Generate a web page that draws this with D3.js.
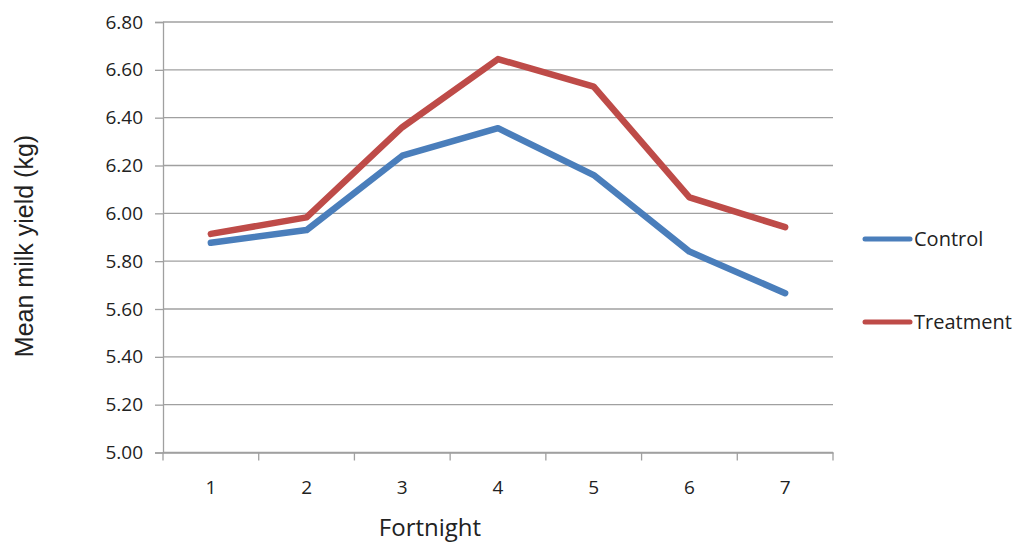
<!DOCTYPE html>
<html>
<head>
<meta charset="utf-8">
<script src="https://cdn.jsdelivr.net/npm/d3@7"></script>
<style>
  body { margin: 0; background: #fff; }
  text { font-family: "Open Sans", "Liberation Sans", sans-serif; fill: #222; }
</style>
</head>
<body>
<svg id="chart" width="1015" height="542"></svg>
<script>
(function () {
  'use strict';

  var fortnights = ['1', '2', '3', '4', '5', '6', '7'];
  var control = [5.877, 5.930, 6.241, 6.356, 6.160, 5.840, 5.666];
  var treatment = [5.914, 5.983, 6.360, 6.645, 6.530, 6.067, 5.942];
  var seriesNames = ['Control', 'Treatment'];
  var seriesColors = ['#4a7ebb', '#be4b48'];
  var yTicks = [5.0, 5.2, 5.4, 5.6, 5.8, 6.0, 6.2, 6.4, 6.6, 6.8];

  var margin = { top: 22, left: 163 };
  var width = 670;
  var height = 430.5;

  var svg = d3.select('#chart');
  var g = svg.append('g')
    .attr('transform', 'translate(' + margin.left + ',' + margin.top + ')');

  var x = d3.scaleBand().domain(fortnights).range([0, width]);
  var y = d3.scaleLinear().domain([5.0, 6.8]).range([height, 0]);

  // gridlines
  g.selectAll('.grid')
    .data(yTicks)
    .enter()
    .append('line')
    .attr('x1', 0)
    .attr('x2', width)
    .attr('y1', function (d) { return y(d); })
    .attr('y2', function (d) { return y(d); })
    .attr('stroke', '#a0a0a0')
    .attr('stroke-width', 1.3);

  // y axis
  var yAxis = g.append('g')
    .call(d3.axisLeft(y).tickValues(yTicks).tickFormat(d3.format('.2f')).tickSize(8).tickPadding(12));
  yAxis.select('.domain').attr('stroke', '#a0a0a0').attr('stroke-width', 1.3);
  yAxis.selectAll('.tick line').attr('stroke', '#a0a0a0').attr('stroke-width', 1.3);
  yAxis.selectAll('text').style('font-size', '19px').attr('fill', '#222');

  // x axis
  var xAxis = g.append('g')
    .attr('transform', 'translate(0,' + height + ')')
    .call(d3.axisBottom(x).tickSize(0).tickPadding(28));
  xAxis.select('.domain').attr('stroke', '#a0a0a0').attr('stroke-width', 1.3);
  xAxis.selectAll('text').style('font-size', '19px').attr('fill', '#222');

  // x ticks between categories
  var bounds = d3.range(fortnights.length + 1).map(function (i) {
    return i * x.step();
  });
  xAxis.selectAll('.btick')
    .data(bounds)
    .enter()
    .append('line')
    .attr('x1', function (d) { return d; })
    .attr('x2', function (d) { return d; })
    .attr('y1', 0)
    .attr('y2', 8)
    .attr('stroke', '#a0a0a0')
    .attr('stroke-width', 1.3);

  // lines
  var line = d3.line()
    .x(function (d, i) { return x(fortnights[i]) + x.bandwidth() / 2; })
    .y(function (d) { return y(d); });

  [control, treatment].forEach(function (vals, k) {
    g.append('path')
      .datum(vals)
      .attr('d', line)
      .attr('fill', 'none')
      .attr('stroke', seriesColors[k])
      .attr('stroke-width', 6.5)
      .attr('stroke-linejoin', 'round')
      .attr('stroke-linecap', 'round');
  });

  // axis titles
  svg.append('text')
    .attr('x', 430)
    .attr('y', 536)
    .attr('text-anchor', 'middle')
    .style('font-size', '24px')
    .text('Fortnight');

  svg.append('text')
    .attr('transform', 'translate(33,246) rotate(-90)')
    .attr('text-anchor', 'middle')
    .style('font-family', '"Liberation Sans", Arial, sans-serif')
    .style('font-size', '25px')
    .text('Mean milk yield (kg)');

  // legend
  var legend = svg.append('g');
  var legendY = [239, 322];
  seriesNames.forEach(function (name, k) {
    legend.append('line')
      .attr('x1', 865)
      .attr('x2', 910)
      .attr('y1', legendY[k])
      .attr('y2', legendY[k])
      .attr('stroke', seriesColors[k])
      .attr('stroke-width', 5)
      .attr('stroke-linecap', 'round');
    legend.append('text')
      .attr('x', 914)
      .attr('y', legendY[k] + 7)
      .style('font-size', '20px')
      .text(name);
  });
}());
</script>
</body>
</html>
